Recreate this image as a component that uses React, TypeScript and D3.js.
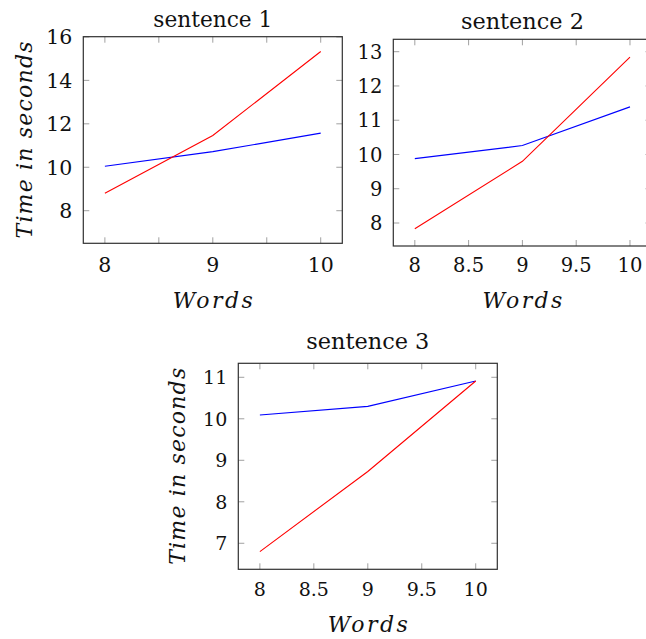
import React from 'react'
import * as d3 from 'd3'

// x values shared by all three plots
const words = [8, 9, 10]
const xTicks = [8, 8.5, 9, 9.5, 10]

const titles = ['sentence 1', 'sentence 2', 'sentence 3']

// red and blue series, one pair per sentence
const red1 = [8.8, 11.46, 15.33]
const blue1 = [10.05, 10.72, 11.57]
const red2 = [7.83, 9.8, 12.84]
const blue2 = [9.88, 10.26, 11.39]
const red3 = [6.8, 8.73, 10.91]
const blue3 = [10.09, 10.3, 10.91]

const yTicks1 = [8, 10, 12, 14, 16]
const yTicks2 = [8, 9, 10, 11, 12, 13]
const yTicks3 = [7, 8, 9, 10, 11]

const font = '"DejaVu Serif", serif'

// layout of each panel on the page
const panels = [
    { title: titles[0], red: red1, blue: blue1, yTicks: yTicks1, yDomain: [6.5, 16.01],
      left: 83.3, right: 342.3, top: 36.7, bottom: 243.3, fs: 20.5, titleY: 27.3, titleW: 119, tickY: 271.5, wordsY: 308.3,
      yLabelX: 31.5, intOnly: true },
    { title: titles[1], red: red2, blue: blue2, yTicks: yTicks2, yDomain: [7.329, 13.362],
      left: 393.3, right: 651.5, top: 39.3, bottom: 246, fs: 19.5, titleY: 29.3, titleW: 123, tickY: 271.5, wordsY: 308,
      yLabelX: null, intOnly: false },
    { title: titles[2], red: red3, blue: blue3, yTicks: yTicks3, yDomain: [6.373, 11.337],
      left: 238.3, right: 497.3, top: 363.3, bottom: 569.3, fs: 19, titleY: 349.3, titleW: 123, tickY: 596, wordsY: 631.7,
      yLabelX: 185, intOnly: false },
]

const Panel = ({ p }: { p: typeof panels[number] }) => {
    const x = d3.scaleLinear().domain([7.8, 10.2]).range([p.left, p.right])
    const y = d3.scaleLinear().domain(p.yDomain).range([p.bottom, p.top])
    const line = d3.line<number>()
        .x((_, i) => x(words[i]))
        .y(d => y(d))
    const tl = 6
    const cx = (p.left + p.right) / 2
    const cy = (p.top + p.bottom) / 2
    const fmt = d3.format('~g')

    return (
        <g fontFamily={font} fill="#111">
            <text x={cx} y={p.titleY} textAnchor="middle" fontSize={22.5} textLength={p.titleW} lengthAdjust="spacingAndGlyphs">
                {p.title}
            </text>

            {/* ticks on all four sides, pointing inward */}
            {xTicks.map(t => (
                <g key={'x' + t} stroke="#a0a0a0" strokeWidth={1}>
                    <line x1={x(t)} x2={x(t)} y1={p.bottom} y2={p.bottom - tl} />
                    <line x1={x(t)} x2={x(t)} y1={p.top} y2={p.top + tl} />
                </g>
            ))}
            {p.yTicks.map(t => (
                <g key={'y' + t} stroke="#a0a0a0" strokeWidth={1}>
                    <line x1={p.left} x2={p.left + tl} y1={y(t)} y2={y(t)} />
                    <line x1={p.right} x2={p.right - tl} y1={y(t)} y2={y(t)} />
                </g>
            ))}

            <path d={line(p.blue) || ''} fill="none" stroke="#0000ff" strokeWidth={1.1} />
            <path d={line(p.red) || ''} fill="none" stroke="#ff0000" strokeWidth={1.1} />

            <rect x={p.left} y={p.top} width={p.right - p.left} height={p.bottom - p.top}
                fill="none" stroke="#303030" strokeWidth={1.2} />

            {/* tick labels */}
            {xTicks.filter(t => !p.intOnly || Number.isInteger(t)).map(t => (
                <text key={'xl' + t} x={x(t)} y={p.tickY} textAnchor="middle" fontSize={p.fs}>{fmt(t)}</text>
            ))}
            {p.yTicks.map(t => (
                <text key={'yl' + t} x={p.left - 11} y={y(t)} dy="0.36em" textAnchor="end" fontSize={p.fs}>{fmt(t)}</text>
            ))}

            <text x={cx} y={p.wordsY} textAnchor="middle" fontSize={22} fontStyle="italic"
                textLength={80} lengthAdjust="spacing">Words</text>
            {p.yLabelX !== null && (
                <text transform={`translate(${p.yLabelX},${cy}) rotate(-90)`} textAnchor="middle" fontSize={22}
                    fontStyle="italic" textLength={197} lengthAdjust="spacing">Time in seconds</text>
            )}
        </g>
    )
}

const App = () => {
    return (
        <div style={{ position: 'absolute', left: 0, top: 0, width: 646, height: 639, overflow: 'hidden', background: '#fff' }}>
            <svg width={646} height={639} style={{ display: 'block' }}>
                <rect width={646} height={639} fill="#fff" />
                {panels.map((p, i) => <Panel key={i} p={p} />)}
            </svg>
        </div>
    )
}

export default App
